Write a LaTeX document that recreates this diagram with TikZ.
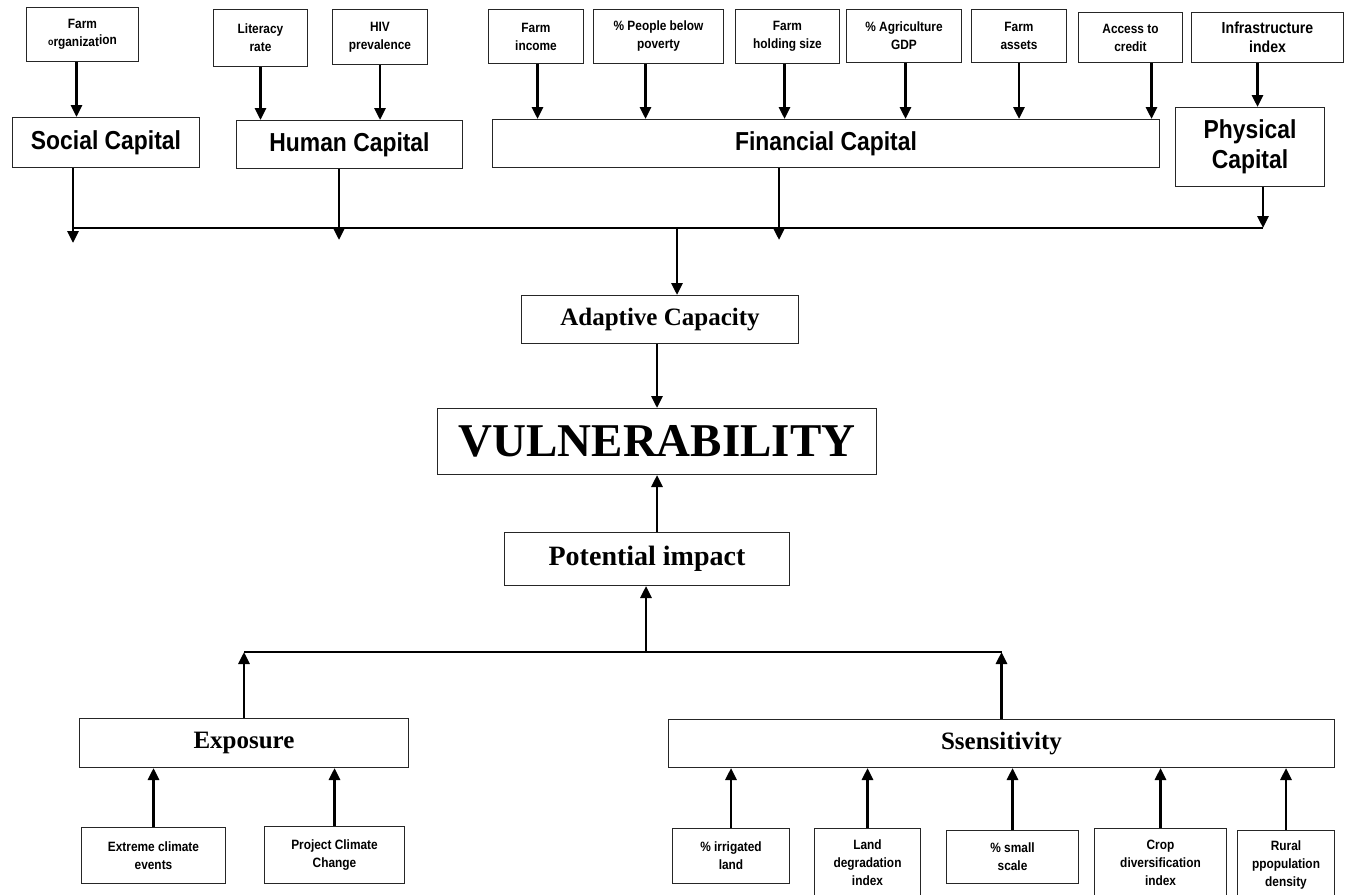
\documentclass[tikz,border=0pt]{standalone}
\usepackage{fontspec}
\setmainfont{Liberation Serif}
\newfontfamily\sansN[FakeStretch=0.88]{Liberation Sans}
\usetikzlibrary{arrows.meta}
\begin{document}
\begin{tikzpicture}[x=1pt,y=-1pt,
 box/.style={draw=black!85, line width=1pt, anchor=north west, align=center, inner sep=0pt},
 sm/.style={box, font=\sansN\bfseries\fontsize{13.5}{18}\selectfont},
 capbox/.style={box, font=\sansN\bfseries\fontsize{26}{30}\selectfont},
 ser/.style={box, font=\bfseries\fontsize{25}{30}\selectfont},
 arr/.style={line width=2.8pt, -{Triangle[width=11pt,length=12pt]}},
 link/.style={line width=1.2pt}]
\path[use as bounding box, clip] (0,0) rectangle (1348,894);
\fill[white] (0,0) rectangle (1348,894);

% top indicators
\node[sm, minimum width=112pt, minimum height=54pt] (forg) at (26,7) {Farm\\\raisebox{1pt}{\fontsize{10}{10}\selectfont o}rganizat\raisebox{2pt}{ion}};
\node[sm, minimum width=94pt, minimum height=57pt] (lit) at (213,9) {Literacy\\rate};
\node[sm, minimum width=95pt, minimum height=55pt] (hiv) at (332,9) {HIV\\prevalence};
\node[sm, minimum width=95pt, minimum height=54pt] (finc) at (488,9) {Farm\\income};
\node[sm, minimum width=130pt, minimum height=54pt] (pov) at (593,9) {\% People below\\poverty};
\node[sm, minimum width=104pt, minimum height=54pt] (fhs) at (735,9) {Farm\\holding size};
\node[sm, minimum width=115pt, minimum height=53pt] (agdp) at (846,9) {\% Agriculture\\GDP};
\node[sm, minimum width=95pt, minimum height=53pt] (fass) at (971,9) {Farm\\assets};
\node[sm, minimum width=104pt, minimum height=50pt] (cred) at (1078,12) {Access to\\credit};
\node[sm, font=\sansN\bfseries\fontsize{16}{19}\selectfont, minimum width=152pt, minimum height=50pt] (infra) at (1191,12) {Infrastructure\\index};

% capitals
\node[capbox, minimum width=187pt, minimum height=50pt] (soc) at (12,117) {Social Capital};
\node[capbox, minimum width=226pt, minimum height=48pt] (hum) at (236,120) {Human Capital};
\node[capbox, minimum width=667pt, minimum height=48pt] (fin) at (492,119) {Financial Capital};
\node[capbox, minimum width=149pt, minimum height=79pt] (phy) at (1175,107) {Physical\\Capital};

% centre
\node[ser, minimum width=277pt, minimum height=48pt] (ada) at (521,295) {Adaptive Capacity};
\node[box, font=\bfseries\fontsize{47}{50}\selectfont, minimum width=439pt, minimum height=66pt] (vul) at (437,408) {VULNERABILITY};
\node[ser, font=\bfseries\fontsize{28}{30}\selectfont, minimum width=285pt, minimum height=53pt] (pot) at (504,532) {Potential impact};

% exposure / sensitivity
\node[ser, minimum width=329pt, minimum height=49pt] (expo) at (79,718) {Exposure};
\node[ser, minimum width=666pt, minimum height=48pt] (sen) at (668,719) {Ssensitivity};

\node[sm, minimum width=144pt, minimum height=56pt] (ext) at (81,827) {Extreme climate\\events};
\node[sm, minimum width=140pt, minimum height=57pt] (proj) at (264,826) {Project Climate\\Change};
\node[sm, minimum width=117pt, minimum height=55pt] (irr) at (672,828) {\% irrigated\\land};
\node[sm, minimum width=106pt, minimum height=68pt] (ldeg) at (814,828) {Land\\degradation\\index};
\node[sm, minimum width=132pt, minimum height=53pt] (small) at (946,830) {\% small\\scale};
\node[sm, minimum width=132pt, minimum height=68pt] (crop) at (1094,828) {Crop\\diversification\\index};
\node[sm, minimum width=97pt, minimum height=68pt] (rural) at (1237,830) {Rural\\ppopulation\\density};

% indicator arrows (top)
\draw[arr] ([xshift=-6pt]forg.south) -- ([xshift=-6pt]forg.south |- soc.north);
\draw[arr] (lit.south) -- (lit.south |- hum.north);
\draw[arr] (hiv.south) -- (hiv.south |- hum.north);
\draw[arr] ([xshift=1.5pt]finc.south) -- ([xshift=1.5pt]finc.south |- fin.north);
\draw[arr] ([xshift=-13pt]pov.south) -- ([xshift=-13pt]pov.south |- fin.north);
\draw[arr] ([xshift=-3pt]fhs.south) -- ([xshift=-3pt]fhs.south |- fin.north);
\draw[arr] ([xshift=1.5pt]agdp.south) -- ([xshift=1.5pt]agdp.south |- fin.north);
\draw[arr] (fass.south) -- (fass.south |- fin.north);
\draw[arr] ([xshift=21pt]cred.south) -- ([xshift=21pt]cred.south |- fin.north);
\draw[arr] ([xshift=-10pt]infra.south) -- ([xshift=-10pt]infra.south |- phy.north);

% junction of capitals
\coordinate (jL) at (73,228);
\coordinate (jH) at (339,228);
\coordinate (jA) at (677,228);
\coordinate (jF) at (779,228);
\coordinate (jR) at (1263,228);
\draw[link] (jL) -- (jR);
\draw[arr] (soc.south -| jL) -- ([yshift=-15pt]jL);
\draw[arr] (hum.south -| jH) -- ([yshift=-12pt]jH);
\draw[arr] (fin.south -| jF) -- ([yshift=-12pt]jF);
\draw[arr] (phy.south -| jR) -- (jR);
\draw[arr] (jA) -- (jA |- ada.north);

% centre arrows
\draw[arr] (ada.south -| vul.north) -- (vul.north);
\draw[arr] (pot.north -| vul.south) -- (vul.south);

% junction of exposure / sensitivity
\coordinate (kP) at (646,652);
\draw[link] (expo.north |- kP) -- (sen.north |- kP);
\draw[arr] (kP) -- (kP |- pot.south);
\draw[arr] (expo.north) -- (expo.north |- kP);
\draw[arr] (sen.north) -- (sen.north |- kP);

% bottom indicator arrows
\draw[arr] (ext.north) -- (ext.north |- expo.south);
\draw[arr] (proj.north) -- (proj.north |- expo.south);
\draw[arr] (irr.north) -- (irr.north |- sen.south);
\draw[arr] (ldeg.north) -- (ldeg.north |- sen.south);
\draw[arr] (small.north) -- (small.north |- sen.south);
\draw[arr] (crop.north) -- (crop.north |- sen.south);
\draw[arr] (rural.north) -- (rural.north |- sen.south);
\end{tikzpicture}
\end{document}
